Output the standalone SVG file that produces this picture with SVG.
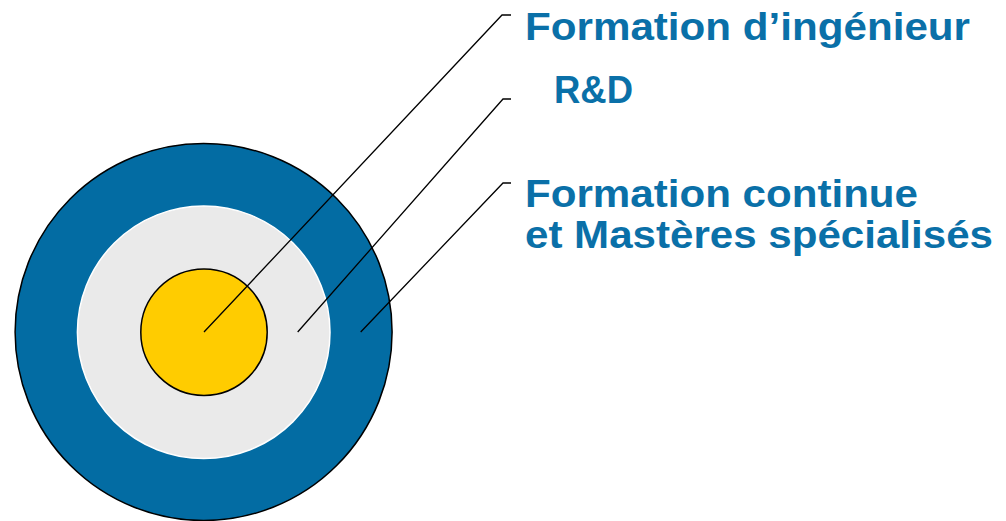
<svg xmlns="http://www.w3.org/2000/svg" width="1006" height="521" viewBox="0 0 1006 521">
<style>
.lbl{font-family:"Liberation Sans",Arial,sans-serif;font-weight:bold;font-size:38px;fill:#0A70A8}
.lead{fill:none;stroke:#000;stroke-width:1.3}
</style>
<rect width="1006" height="521" fill="#fff"/>
<g id="outer-ring"><circle cx="203.6" cy="332" r="188.5" fill="#036CA3" stroke="#000" stroke-width="1.5"/></g>
<g id="middle-ring"><circle cx="203.7" cy="332.3" r="126.3" fill="#EAEAEA" stroke="#fff" stroke-width="1.5"/></g>
<g id="inner-core"><circle cx="204" cy="332.2" r="63.2" fill="#FFCC00" stroke="#000" stroke-width="1.5"/></g>
<g id="connectors">
<polyline class="lead" points="204,332 502,15 511,15"/>
<polyline class="lead" points="297.7,332 503,99 511,99"/>
<polyline class="lead" points="360.7,332 503,183 511,183"/>
</g>
<g id="label-formation-ingenieur"><text class="lbl" x="525" y="40" textLength="445" lengthAdjust="spacingAndGlyphs">Formation d’ingénieur</text></g>
<g id="label-rd"><text class="lbl" x="554" y="103" textLength="79" lengthAdjust="spacingAndGlyphs">R&amp;D</text></g>
<g id="label-formation-continue">
<text class="lbl" x="525" y="206.5" textLength="393" lengthAdjust="spacingAndGlyphs">Formation continue</text>
<text class="lbl" x="525" y="248" textLength="468" lengthAdjust="spacingAndGlyphs">et Mastères spécialisés</text>
</g>
</svg>
